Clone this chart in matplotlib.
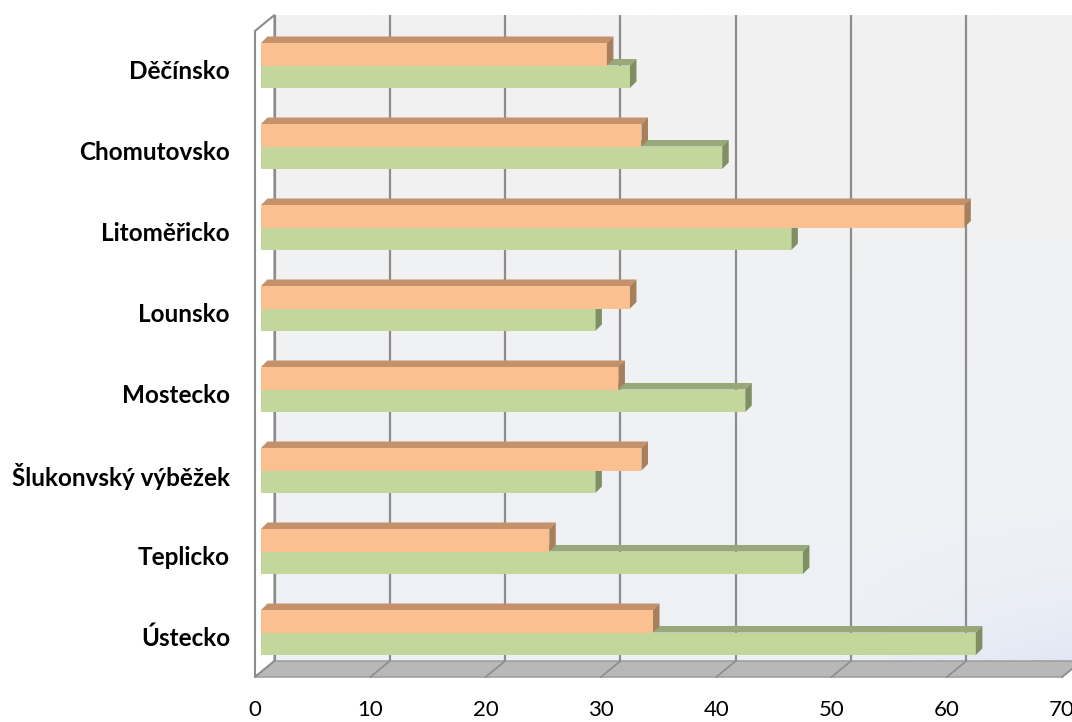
"""
Horizontal bar chart with a pseudo-3D look: two series per district of the
Ustecky region, drawn as boxes standing in front of a shaded back wall.
"""
import numpy as np
import matplotlib
matplotlib.use("Agg")
import matplotlib.pyplot as plt
from matplotlib.patches import Polygon, Rectangle
from matplotlib.colors import to_rgb

regions = ["Děčínsko", "Chomutovsko", "Litoměřicko", "Lounsko",
           "Mostecko", "Šlukonvský výběžek", "Teplicko", "Ústecko"]
orange_vals = [30, 33, 61, 32, 31, 33, 25, 34]
green_vals = [32, 40, 46, 29, 42, 29, 47, 62]
x_ticks = [0, 10, 20, 30, 40, 50, 60, 70]

# canvas geometry (pixels)
W, H = 1072, 722
SX = 11.53      # pixels per unit on the value axis
X0 = 261        # pixel column where the bar faces start
Y0 = 65.5       # pixel row of the first category centre
SY = 81.0       # pixels between categories
BAR_H = 22.5    # pixel height of one bar face
BAR_D = 6.5     # pixel depth of a bar

# planes of the box, relative to the bar plane (pixels)
FRONT = (-6.0, 6.0)
BACK = (13.5, -10.0)
WALL_TOP = 15
FLOOR_BACK = 661
FLOOR_FRONT = 677

ORANGE = dict(front="#FAC090", top="#C4916B", side="#A77F5C")
GREEN = dict(front="#C3D69B", top="#98A878", side="#7F8F62")
GRID = "#8C8C8C"
FONT = ["Lato", "DejaVu Sans"]


def ux(p):
    return p / SX


def uy(p):
    return p / SY


def row(py):
    return (py - Y0) / SY


def draw_box(ax, v, ytop, color):
    h = uy(BAR_H)
    ddx, ddy = ux(BAR_D), -uy(BAR_D)
    top = [(0, ytop), (v, ytop), (v + ddx, ytop + ddy), (ddx, ytop + ddy)]
    side = [(v, ytop), (v, ytop + h), (v + ddx, ytop + h + ddy), (v + ddx, ytop + ddy)]
    ax.add_patch(Polygon(top, closed=True, facecolor=color["top"], edgecolor="none", zorder=4))
    ax.add_patch(Rectangle((0, ytop), v, h, facecolor=color["front"], edgecolor="none", zorder=4))
    ax.add_patch(Polygon(side, closed=True, facecolor=color["side"], edgecolor="none", zorder=4))


def wall_gradient(ax, left, right, top, bottom):
    ny, nx = 200, 300
    fy = np.linspace(0, 1, ny)[:, None]
    fx = np.linspace(0, 1, nx)[None, :]
    c_top = np.array(to_rgb("#F2F2F2"))
    c_bot = np.array(to_rgb("#EDF0F6"))
    c_blue = np.array(to_rgb("#E0E6F4"))
    w = (fy ** 1.5)[..., None] * np.ones((1, nx, 1))
    img = c_top * (1 - w) + c_bot * w
    b = ((fy ** 12) * np.clip((fx - 0.7) / 0.3, 0, 1))[..., None]
    img = img * (1 - b) + c_blue * b
    im = ax.imshow(img, extent=(left, right, bottom, top), origin="upper",
                   interpolation="bilinear", zorder=0)
    return im


def main():
    fig = plt.figure(figsize=(W / 100, H / 100), dpi=100)
    ax = fig.add_axes([0, 0, 1, 1])

    bx, by = ux(BACK[0]), uy(BACK[1])
    fx, fy = ux(FRONT[0]), uy(FRONT[1])
    vmax = x_ticks[-1]

    # back wall
    wall = [(bx, row(WALL_TOP)), (vmax + bx, row(WALL_TOP)),
            (vmax + bx, row(FLOOR_BACK)), (bx, row(FLOOR_BACK))]
    im = wall_gradient(ax, bx, vmax + bx, row(WALL_TOP), row(FLOOR_BACK))
    im.set_clip_path(Polygon(wall, closed=True, transform=ax.transData))

    # left side wall
    side_wall = [(fx, row(WALL_TOP) + (fy - by)), (bx, row(WALL_TOP)),
                 (bx, row(FLOOR_BACK)), (fx, row(FLOOR_FRONT))]
    ax.add_patch(Polygon(side_wall, closed=True, facecolor="white",
                         edgecolor=GRID, linewidth=1.5, zorder=1))

    # floor
    floor = [(fx, row(FLOOR_FRONT)), (vmax + fx, row(FLOOR_FRONT)),
             (vmax + bx, row(FLOOR_BACK)), (bx, row(FLOOR_BACK))]
    ax.add_patch(Polygon(floor, closed=True, facecolor="#B8B8B8",
                         edgecolor="#A0A0A0", linewidth=1.2, zorder=1))

    # gridlines on back wall and floor
    for t in x_ticks:
        ax.plot([t + bx, t + bx], [row(WALL_TOP), row(FLOOR_BACK)],
                color=GRID, linewidth=1.6, zorder=2, solid_capstyle="butt")
        ax.plot([t + bx, t + fx], [row(FLOOR_BACK), row(FLOOR_FRONT)],
                color=GRID, linewidth=1.2, zorder=2)
        ax.text(t + fx, row(710), str(t), ha="center", va="center",
                fontsize=16, family=FONT, color="black")

    # bars: green below, orange on top
    h = uy(BAR_H)
    for i, name in enumerate(regions):
        draw_box(ax, green_vals[i], i, GREEN)
        draw_box(ax, orange_vals[i], i - h, ORANGE)
        ax.text(ux(230 - X0), i + uy(6), name, ha="right", va="center",
                fontsize=17.5, fontweight="bold", family=FONT, color="black")

    ax.set_xlim(ux(-X0), ux(W - X0))
    ax.set_ylim(row(H), row(0))
    ax.set_aspect("auto")
    ax.axis("off")

    fig.savefig("out.png", dpi=100, facecolor="white")
    plt.close(fig)


if __name__ == "__main__":
    main()
